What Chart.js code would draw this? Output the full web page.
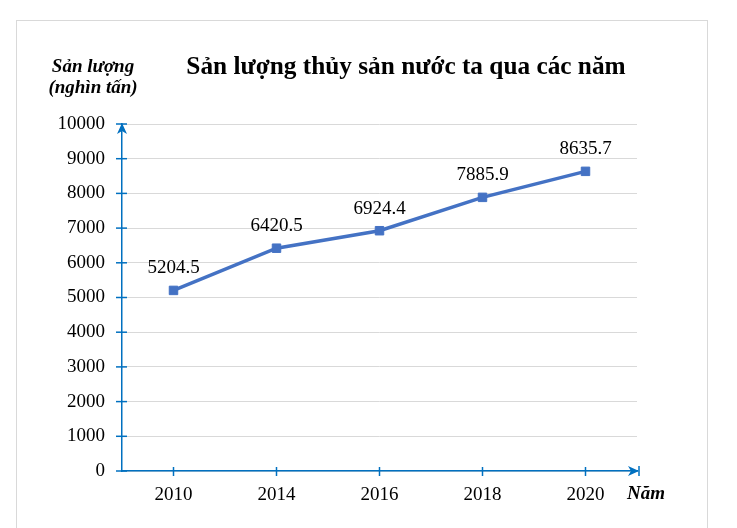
<!DOCTYPE html>
<html>
<head>
<meta charset="utf-8">
<script src="https://cdn.jsdelivr.net/npm/chart.js@4"></script>
<style>
  html, body { margin: 0; padding: 0; background: #fff; overflow: hidden; }
  #wrap { position: relative; width: 737px; height: 528px; }
</style>
</head>
<body>
<div id="wrap"><canvas id="myChart" width="737" height="528"></canvas></div>
<script>
const years = ["2010", "2014", "2016", "2018", "2020"];
const output = [5204.5, 6420.5, 6924.4, 7885.9, 8635.7];
const yTicks = [0, 1000, 2000, 3000, 4000, 5000, 6000, 7000, 8000, 9000, 10000];

const axisBlue = "#0070C0";
const serif = "'Liberation Serif', 'Times New Roman', serif";

// titles, frame, arrows and value labels
const extras = {
  id: "extras",
  beforeDraw(chart) {
    const c = chart.ctx;
    c.save();
    c.strokeStyle = "#d9d9d9";
    c.lineWidth = 1;
    c.strokeRect(16.5, 20.5, 691, 520);
    c.restore();
  },
  afterDraw(chart) {
    const c = chart.ctx;
    const area = chart.chartArea;
    const y = chart.scales.y;
    const x = chart.scales.x;
    const ax = area.left;
    const ay = y.getPixelForValue(0);
    c.save();
    c.strokeStyle = axisBlue;
    c.fillStyle = axisBlue;
    c.lineWidth = 1.5;
    // y ticks across the axis
    yTicks.forEach((v) => {
      const py = y.getPixelForValue(v);
      c.beginPath();
      c.moveTo(ax - 6, py);
      c.lineTo(ax + 5, py);
      c.stroke();
    });
    // x ticks
    years.forEach((yr, i) => {
      const px = x.getPixelForValue(i);
      c.beginPath();
      c.moveTo(px, ay - 4);
      c.lineTo(px, ay + 5);
      c.stroke();
    });
    const rx = area.right + 2;
    c.beginPath();
    c.moveTo(rx, ay - 5);
    c.lineTo(rx, ay + 5);
    c.stroke();
    // arrow heads
    const top = y.getPixelForValue(10000) - 1;
    c.beginPath();
    c.moveTo(ax, top);
    c.lineTo(ax + 5, top + 11);
    c.lineTo(ax, top + 8);
    c.lineTo(ax - 5, top + 11);
    c.closePath();
    c.fill();
    c.beginPath();
    c.moveTo(rx, ay);
    c.lineTo(rx - 11, ay - 5);
    c.lineTo(rx - 8, ay);
    c.lineTo(rx - 11, ay + 5);
    c.closePath();
    c.fill();
    c.restore();

    // value labels
    const meta = chart.getDatasetMeta(0);
    c.save();
    c.fillStyle = "#000";
    c.font = "19px " + serif;
    c.textAlign = "center";
    c.textBaseline = "alphabetic";
    meta.data.forEach((pt, i) => {
      c.fillText(String(output[i]), pt.x, pt.y - 17);
    });

    // titles
    c.font = "bold 25.3px " + serif;
    c.fillText("Sản lượng thủy sản nước ta qua các năm", 406, 74);
    c.font = "italic bold 19px " + serif;
    c.fillText("Sản lượng", 93, 72);
    c.fillText("(nghìn tấn)", 93, 93);
    c.textAlign = "left";
    c.fillText("Năm", 627, 499);
    c.restore();
  },
};

const ctx = document.getElementById("myChart");

new Chart(ctx, {
  type: "line",
  data: {
    labels: years,
    datasets: [
      {
        data: output,
        borderColor: "#4472C4",
        backgroundColor: "#4472C4",
        borderWidth: 3.5,
        pointStyle: "rect",
        pointRadius: 6,
        pointBorderWidth: 1,
        pointBackgroundColor: "#4472C4",
        pointBorderColor: "#4472C4",
        tension: 0,
      },
    ],
  },
  options: {
    responsive: false,
    animation: false,
    layout: {
      padding: { left: 52, right: 100, top: 124, bottom: 7 },
    },
    scales: {
      x: {
        offset: true,
        afterFit: (s) => { s.height = 50; },
        grid: { color: "transparent", drawTicks: false },
        border: { color: axisBlue, width: 1.5 },
        ticks: {
          padding: 13,
          color: "#000",
          font: { family: serif, size: 19 },
        },
      },
      y: {
        min: 0,
        max: 10000,
        afterFit: (s) => { s.width = 70; },
        afterBuildTicks: (s) => { s.ticks = yTicks.map((v) => ({ value: v })); },
        grid: { color: "#d9d9d9", drawTicks: false },
        border: { color: axisBlue, width: 1.5 },
        ticks: {
          padding: 17,
          color: "#000",
          font: { family: serif, size: 19 },
          callback: function (value) {
            return String(value);
          },
        },
      },
    },
    plugins: {
      legend: { display: false },
      tooltip: { enabled: false },
    },
  },
  plugins: [extras],
});
</script>
</body>
</html>
